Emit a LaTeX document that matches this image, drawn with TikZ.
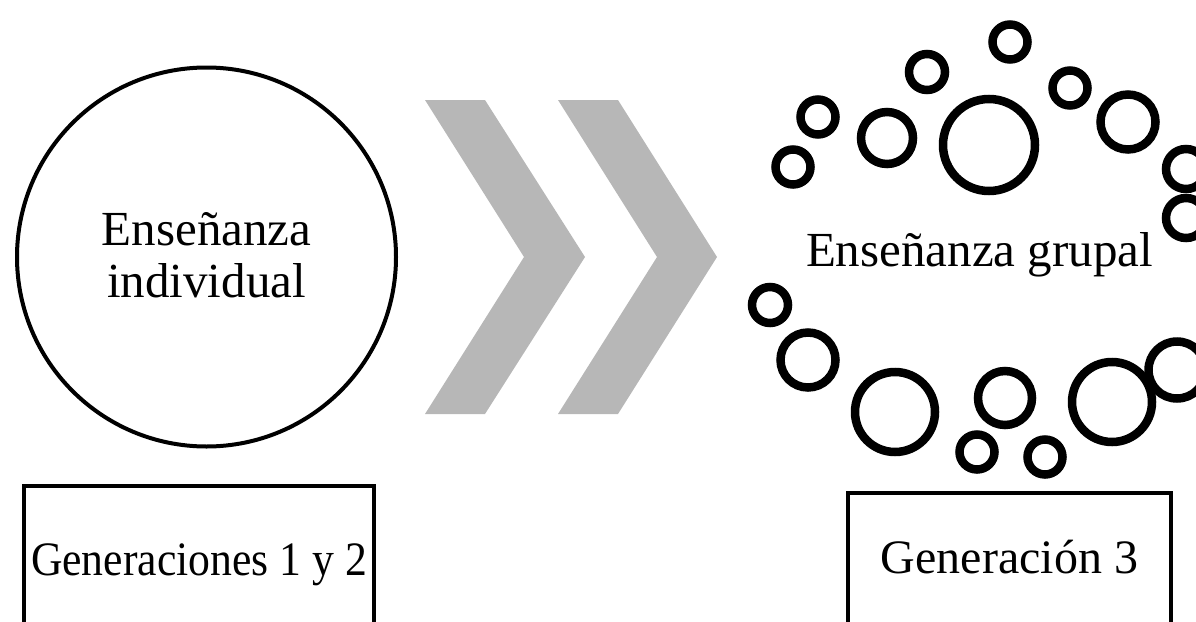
\documentclass[tikz,border=0pt]{standalone}
\usepackage{fontspec}
\setmainfont{Liberation Serif}
\definecolor{chevgray}{HTML}{B7B7B7}
\tikzset{
  ring/.style={draw=black, line width=8.5pt},
  bigring/.style={draw=black, line width=4pt},
  chev/.style={fill=chevgray, draw=none},
  genbox/.style={draw=black, line width=3.5pt},
  bigtext/.style={font=\fontsize{49}{52}\selectfont, inner sep=0pt, anchor=base},
  boxtext/.style={font=\fontsize{48}{52}\selectfont, inner sep=0pt, anchor=base}
}
\begin{document}
\begin{tikzpicture}[x=1pt, y=-1pt]
\useasboundingbox (0,0) rectangle (1196,621);
% left big circle
\draw[bigring] (206.5,257) circle (189.5);
\node[bigtext] (ens1) at (206.5,245) {Enseñanza};
\node[bigtext] (ind1) at (206.5,297) {individual};
% chevrons
\fill[chev] (425,100) -- (485,100) -- (585,257) -- (485,414) -- (425,414) -- (524,257) -- cycle;
\fill[chev] (558,100) -- (618,100) -- (717,257) -- (618,414) -- (558,414) -- (657,257) -- cycle;
% ring circles
\foreach \cx/\cy/\r in {
  1010/42/17.5, 927/72/18, 818/117/17.5, 793/167/17.5, 887/138/26,
  989/145/46, 1070/88/17.5, 1128/122/27.5, 1186/169/20, 1186/218/20,
  770/305/18, 808/360/27.5, 895/412/40, 1005/398/27, 977/452/17.5,
  1045/457/17.5, 1112/402/40, 1177/370/28.5}
  \draw[ring] (\cx,\cy) circle (\r);
\node[bigtext] (grp) at (979.5,266) {Enseñanza grupal};
% boxes
\draw[genbox] (24,486) rectangle (374,640);
\node[boxtext] (gen12) at (199,575) {\scalebox{0.91}[1]{Generaciones 1 y 2}};
\draw[genbox] (848,493) rectangle (1171,640);
\node[boxtext] (gen3) at (1009.5,573) {Generación 3};
\end{tikzpicture}
\end{document}
